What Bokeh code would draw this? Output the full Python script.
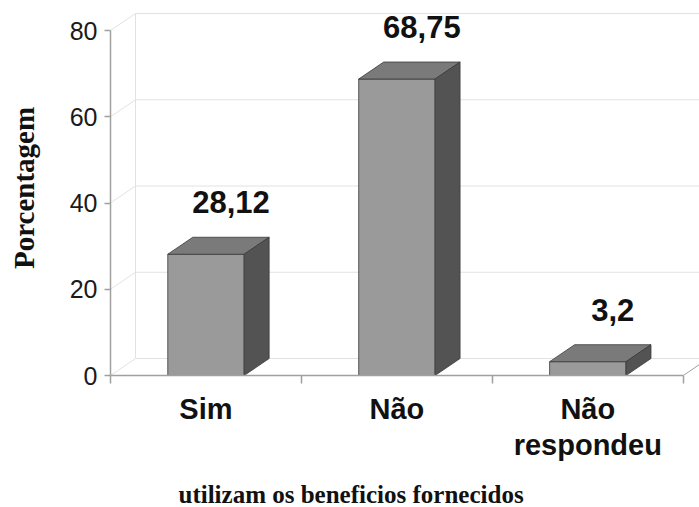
from bokeh.plotting import figure
from bokeh.models import Range1d, FixedTicker, Title
from bokeh.core.properties import value
from bokeh.embed import file_html
from bokeh.resources import INLINE

# Survey answers: share of respondents who use the benefits offered
categories = ["Sim", "Não", "Não respondeu"]
category_labels = ["Sim", "Não", "Não\nrespondeu"]
percentages = [28.12, 68.75, 3.2]
value_labels = ["28,12", "68,75", "3,2"]
y_ticks = [0, 20, 40, 60, 80]
y_title = "Porcentagem"
x_title = "utilizam os beneficios fornecidos"

# canvas / frame geometry
W, H = 699, 507
LEFT, BOTTOM = 110, 132
X_END = 3.085          # category units visible to the right edge
Y_END = 86.96          # value units visible to the top edge
frame_w = W - LEFT
frame_h = H - BOTTOM
px_x = frame_w / X_END
px_y = frame_h / Y_END

# pseudo-3D depth, given in pixels and converted into data units
DEPTH_PX = (25, 17)
dx = DEPTH_PX[0] / px_x
dy = DEPTH_PX[1] / px_y
BAR_W = 0.40
n = len(categories)

FRONT = "#9a9a9a"
TOP = "#7a7a7a"
SIDE = "#535353"
EDGE = "#3a3a3a"
WALL = "#e2e2e2"
AXIS = "#a0a0a0"

p = figure(width=W, height=H, output_backend="svg", toolbar_location=None,
           x_range=Range1d(0, X_END), y_range=Range1d(0, Y_END),
           min_border_left=LEFT, min_border_right=0, min_border_top=0,
           min_border_bottom=BOTTOM)
p.xgrid.visible = False
p.ygrid.visible = False
p.outline_line_color = None
p.background_fill_color = "white"
p.border_fill_color = "white"

# back wall gridlines and left side wall
y_max = max(y_ticks)
p.multi_line(xs=[[dx, X_END + dx] for t in y_ticks],
             ys=[[t + dy, t + dy] for t in y_ticks],
             line_color=WALL, line_width=1)
p.multi_line(xs=[[0, dx] for t in y_ticks],
             ys=[[t, t + dy] for t in y_ticks],
             line_color=WALL, line_width=1)
p.line(x=[dx, dx], y=[dy, y_max + dy], line_color=WALL, line_width=1)

# floor right edge
p.line(x=[n, n + dx], y=[0, dy], line_color=AXIS, line_width=1)

# bars: front, top and side faces
lefts = [i + 0.5 - BAR_W / 2 for i in range(n)]
rights = [l + BAR_W for l in lefts]
p.quad(left=lefts, right=rights, bottom=[0] * n, top=percentages,
       fill_color=FRONT, line_color=EDGE, line_width=0.8)
p.patches(xs=[[l, r, r + dx, l + dx] for l, r in zip(lefts, rights)],
          ys=[[v, v, v + dy, v + dy] for v in percentages],
          fill_color=TOP, line_color=EDGE, line_width=0.8)
p.patches(xs=[[r, r + dx, r + dx, r] for r in rights],
          ys=[[0, dy, v + dy, v] for v in percentages],
          fill_color=SIDE, line_color=EDGE, line_width=0.8)

# value labels above each bar
p.text(x=[i + 0.5 + dx for i in range(n)],
       y=[v + dy for v in percentages],
       text=value_labels, y_offset=-35,
       text_align="center", text_baseline="middle",
       text_font=value("Liberation Sans"), text_font_style="bold",
       text_font_size="31px", text_color="#111111")

# y axis
ya = p.yaxis[0]
ya.ticker = FixedTicker(ticks=y_ticks, minor_ticks=[])
ya.bounds = (0, y_max)
ya.axis_line_color = AXIS
ya.axis_line_width = 1.5
ya.major_tick_line_color = AXIS
ya.major_tick_line_width = 1.5
ya.major_tick_out = 6
ya.major_tick_in = 0
ya.major_label_standoff = 7
ya.major_label_text_font = "Liberation Sans"
ya.major_label_text_font_size = "25px"
ya.major_label_text_color = "#1a1a1a"
ya.axis_label = y_title
ya.axis_label_text_font = "Liberation Serif"
ya.axis_label_text_font_style = "bold"
ya.axis_label_text_font_size = "29px"
ya.axis_label_text_color = "#111111"
ya.axis_label_standoff = 27

# category axis along the floor's front edge
xa = p.xaxis[0]
centers = [i + 0.5 for i in range(n)]
xa.ticker = FixedTicker(ticks=centers, minor_ticks=list(range(n + 1)))
xa.bounds = (0, n)
xa.major_label_overrides = {c: lab for c, lab in zip(centers, category_labels)}
xa.axis_line_color = AXIS
xa.axis_line_width = 1.5
xa.major_tick_out = 0
xa.major_tick_in = 0
xa.minor_tick_out = 8
xa.minor_tick_in = 0
xa.minor_tick_line_color = AXIS
xa.minor_tick_line_width = 1.5
xa.major_label_standoff = 9
xa.major_label_text_font = "Liberation Sans"
xa.major_label_text_font_style = "bold"
xa.major_label_text_font_size = "29px"
xa.major_label_text_color = "#111111"
xa.major_label_text_line_height = 1.15
# blank spacer line below the category names, leaves room above the title
xa.axis_label = " "
xa.axis_label_standoff = 0
xa.axis_label_text_font_size = "12px"
xa.axis_label_text_alpha = 0

# horizontal title under the category labels
p.add_layout(Title(text=x_title, align="left", offset=68, standoff=-6,
                   vertical_align="bottom",
                   text_font="Liberation Serif", text_font_style="bold",
                   text_font_size="25px", text_color="#111111"), "below")

open("out.html", "w").write(file_html(p, INLINE))
